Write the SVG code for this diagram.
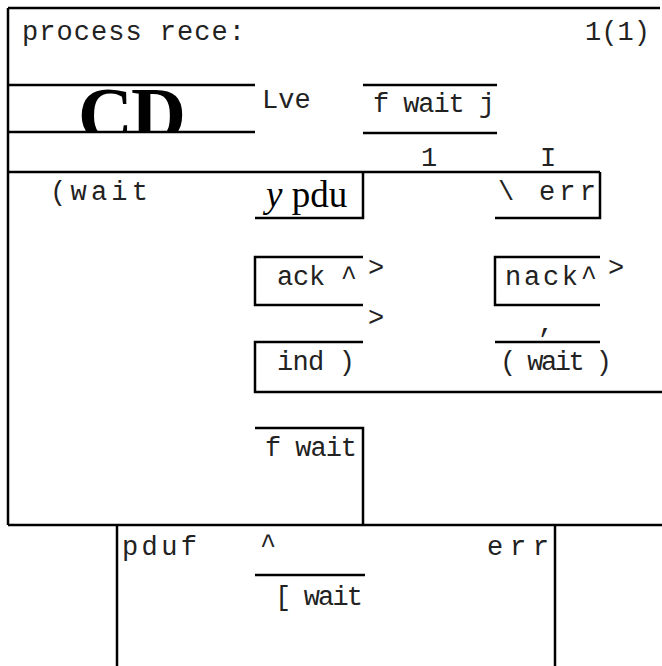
<svg xmlns="http://www.w3.org/2000/svg" width="662" height="666" viewBox="0 0 662 666">
<style>
.ln{stroke:#000;stroke-width:2.5;fill:none}
.m{font-family:"Liberation Mono","Courier New",monospace;font-size:27px;fill:#222}
.s{font-family:"Liberation Serif","Times New Roman",serif;fill:#000}
</style>
<defs>
<clipPath id="cdclip"><rect x="0" y="86" width="300" height="46"/></clipPath>
</defs>
<rect width="662" height="666" fill="#fff"/>
<g id="connectors">
<path class="ln" d="M8 8H660M8 8V525"/>
<path class="ln" d="M8 85H255M8 132H255"/>
<path class="ln" d="M363 85H497M363 133H497"/>
<path class="ln" d="M8 172H600"/>
<path class="ln" d="M363 172V218H255M600 172V218H495"/>
<path class="ln" d="M363 257H255V305H363M600 257H495V305H600"/>
<path class="ln" d="M363 342H255V392H662M600 342H495"/>
<path class="ln" d="M255 428H363V525"/>
<path class="ln" d="M8 525H662"/>
<path class="ln" d="M117 525V666M555 525V666M255 575H365"/>
</g>
<g id="header">
<text class="m" x="22" y="40" textLength="223">process rece:</text>
<text class="m" x="585" y="40" textLength="65">1(1)</text>
</g>
<g id="start">
<text class="s" x="78" y="140" font-size="76" font-weight="bold" clip-path="url(#cdclip)" textLength="108">CD</text>
</g>
<g id="lve"><text class="m" x="262" y="108">Lve</text></g>
<g id="state-wait-top"><text class="m" x="373" y="112" textLength="122" font-size="24">f wait j</text></g>
<g id="marks">
<text class="m" x="421" y="166">1</text>
<text class="m" x="540" y="166">I</text>
</g>
<g id="wait-left"><text class="m" x="50" y="200" textLength="98">(wait</text></g>
<g id="input-pdu"><text class="s" x="266" y="207" font-size="37"><tspan font-style="italic">y</tspan> pdu</text></g>
<g id="input-err"><text class="m" x="498" y="200" textLength="98">\ err</text></g>
<g id="output-ack">
<text class="m" x="277" y="285" textLength="80">ack ^</text>
<text class="m" x="368" y="276" font-size="20">&gt;</text>
</g>
<g id="output-nack">
<text class="m" x="505" y="285" textLength="92">nack^</text>
<text class="m" x="608" y="276" font-size="20">&gt;</text>
</g>
<g id="marks2">
<text class="m" x="368" y="326" font-size="20">&gt;</text>
<text class="m" x="538" y="332" font-size="22">,</text>
</g>
<g id="output-ind"><text class="m" x="277" y="370" textLength="78">ind )</text></g>
<g id="state-wait-right"><text class="m" x="500" y="370" textLength="112">( wait )</text></g>
<g id="state-fwait"><text class="m" x="265" y="456" textLength="92">f wait</text></g>
<g id="bottom">
<text class="m" x="122" y="555" textLength="75">pduf</text>
<text class="m" x="260" y="553">^</text>
<text class="m" x="487" y="555" textLength="62">err</text>
<text class="m" x="275" y="605" textLength="88">[ wait</text>
</g>
</svg>
